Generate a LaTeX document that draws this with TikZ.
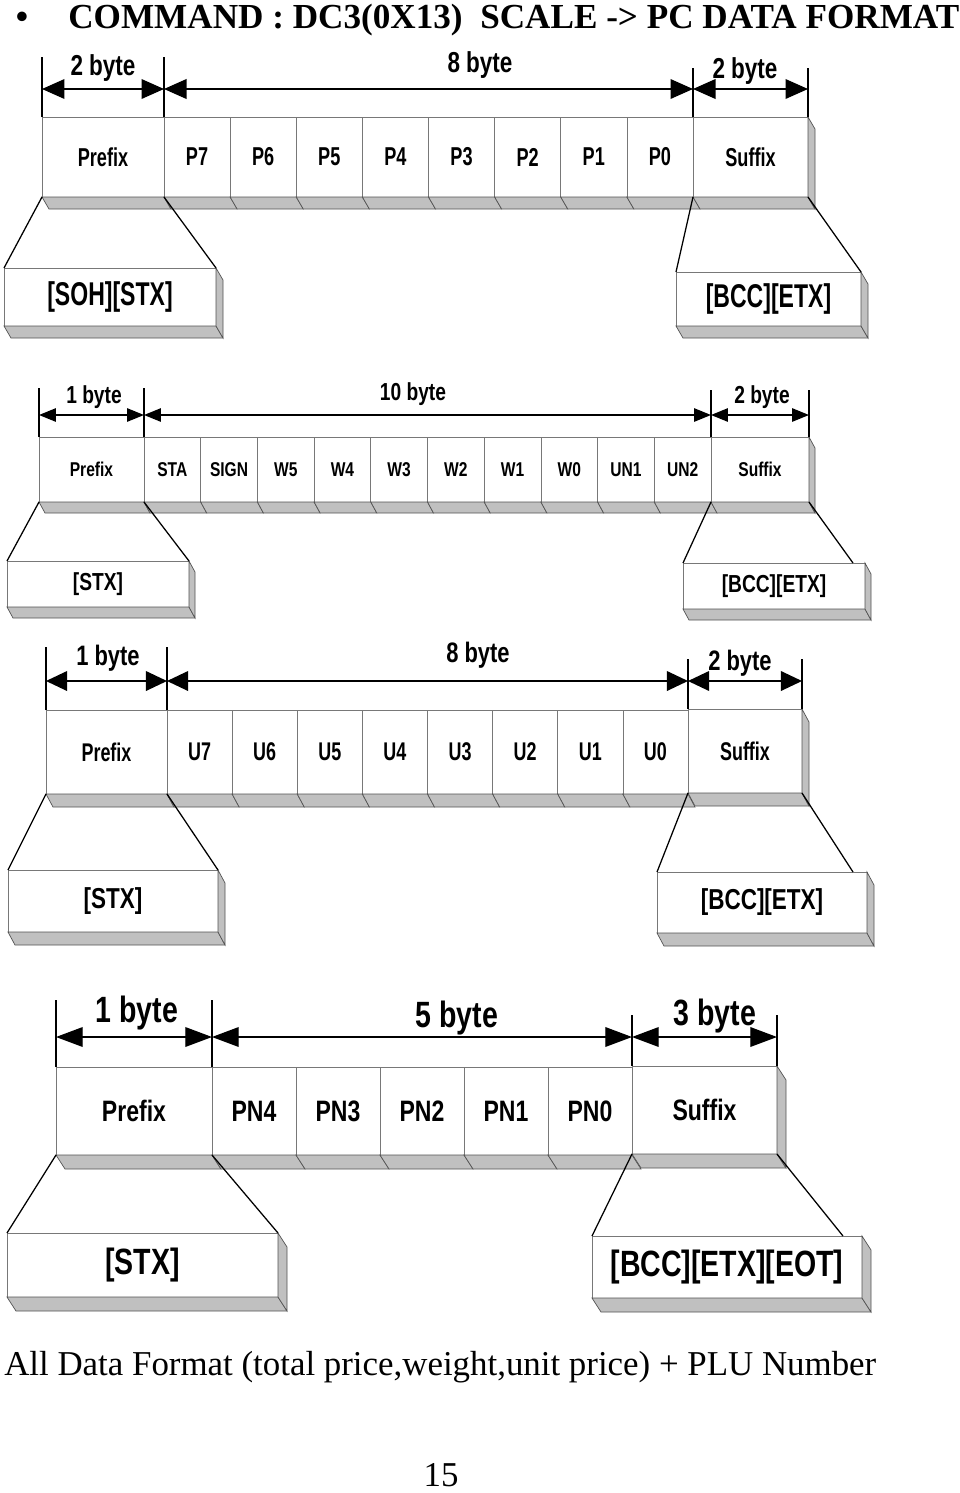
\documentclass[tikz,border=0pt]{standalone}
\usepackage{fontspec}
\setmainfont{Liberation Serif}
\newfontfamily\narrowsf[FakeStretch=0.78]{Liberation Sans}
\newfontfamily\tightsf[FakeStretch=0.70]{Liberation Sans}
\usetikzlibrary{arrows.meta,calc}
\definecolor{shadegray}{RGB}{192,192,192}
\definecolor{edgegray}{RGB}{120,120,120}

\begin{document}
\begin{tikzpicture}[x=0.025cm, y=-0.025cm,
    cell/.style={draw=edgegray, line width=0.5pt, fill=white, inner sep=0pt, outer sep=0pt, font=\narrowsf\bfseries\fontsize{#1}{#1}\selectfont},
    tcell/.style={cell, font=\tightsf\bfseries\fontsize{#1}{#1}\selectfont},
    box/.style={draw=edgegray, line width=0.6pt, fill=white, inner sep=0pt, outer sep=0pt, font=\narrowsf\bfseries\fontsize{#1}{#1}\selectfont},
    tbox/.style={box, font=\tightsf\bfseries\fontsize{#1}{#1}\selectfont},
    lbl/.style={anchor=base, inner sep=0pt, font=\narrowsf\bfseries\fontsize{#1}{#1}\selectfont},
    tick/.style={line width=0.8pt},
    dim/.style 2 args={line width=1pt, {Triangle[length=#1,width=#2]}-{Triangle[length=#1,width=#2]}},
    funnel/.style={line width=0.9pt},
    shade/.style={draw=edgegray!70!black, line width=0.5pt, fill=shadegray}
  ]
  \useasboundingbox (0,0) rectangle (960,1493);

  % heading
  \node[anchor=base, font=\bfseries\fontsize{25}{28}\selectfont] (bul) at (22,28) {\textbullet};
  \node[anchor=base west, inner sep=0pt, font=\bfseries\fontsize{25}{28}\selectfont] (title) at (68,28) {COMMAND : DC3(0X13)\ \ SCALE -> PC DATA FORMAT};

  % ---- total price
  \node[tcell=18.4, minimum width=122*0.025cm, minimum height=80*0.025cm] (preA) at (103,157) {Prefix};
  \foreach \t [count=\i] in {P7,P6,P5,P4,P3,P2,P1,P0}
    \node[tcell=18.4, minimum width=66.125*0.025cm, minimum height=80*0.025cm] (pA\i) at ({164+66.125*(\i-0.5)},157) {\t};
  \node[tcell=18.4, minimum width=115*0.025cm, minimum height=80*0.025cm] (sufA) at (750.5,157) {Suffix};
  \node[tbox=23.4, minimum width=212*0.025cm, minimum height=58*0.025cm] (sohA) at (110,297) {[SOH][STX]};
  \node[tbox=23.4, minimum width=185*0.025cm, minimum height=54*0.025cm] (bccA) at (768.5,299) {[BCC][ETX]};
  \foreach \c in {preA,pA1,pA2,pA3,pA4,pA5,pA6,pA7,pA8,sufA,sohA,bccA}
    \draw[shade] (\c.south west) -- (\c.south east) -- ++(7,12) -- ([shift={(7,12)}]\c.south west) -- cycle;
  \foreach \c in {sufA,sohA,bccA}
    \draw[shade] (\c.north east) -- ++(7,12) -- ([shift={(7,12)}]\c.south east) -- (\c.south east) -- cycle;
  \draw[tick] (preA.north west) -- ++(0,-60);
  \draw[tick] (preA.north east) -- ++(0,-60);
  \draw[tick] (sufA.north west) -- ++(0,-49);
  \draw[tick] (sufA.north east) -- ++(0,-49);
  \coordinate (dA0) at ($(preA.north west)+(0,-28)$);
  \coordinate (dA1) at ($(preA.north east)+(0,-28)$);
  \coordinate (dA2) at ($(sufA.north west)+(0,-28)$);
  \coordinate (dA3) at ($(sufA.north east)+(0,-28)$);
  \draw[dim={16pt}{14pt}] (dA0) -- (dA1);
  \draw[dim={16pt}{14pt}] (dA1) -- (dA2);
  \draw[dim={16pt}{14pt}] (dA2) -- (dA3);
  \node[lbl=20.5] (bA1) at (103,75) {2 byte};
  \node[lbl=20.5] (bA2) at (480,72) {8 byte};
  \node[lbl=20.5] (bA3) at (745,78) {2 byte};
  \draw[funnel] (preA.south west) -- (sohA.north west);
  \draw[funnel] (preA.south east) -- (sohA.north east);
  \draw[funnel] (sufA.south west) -- (bccA.north west);
  \draw[funnel] (sufA.south east) -- (bccA.north east);

  % ---- weight
  \node[cell=14.2, minimum width=105*0.025cm, minimum height=65*0.025cm] (preB) at (91.5,469.5) {Prefix};
  \foreach \t [count=\i] in {STA,SIGN,W5,W4,W3,W2,W1,W0,UN1,UN2}
    \node[cell=14.2, minimum width=56.7*0.025cm, minimum height=65*0.025cm] (wB\i) at ({144+56.7*(\i-0.5)},469.5) {\t};
  \node[cell=14.2, minimum width=98*0.025cm, minimum height=65*0.025cm] (sufB) at (760,469.5) {Suffix};
  \node[box=17.5, minimum width=182*0.025cm, minimum height=46*0.025cm] (stxB) at (98,584) {[STX]};
  \node[box=17.5, minimum width=182*0.025cm, minimum height=46*0.025cm] (bccB) at (774,586) {[BCC][ETX]};
  \foreach \c in {preB,wB1,wB2,wB3,wB4,wB5,wB6,wB7,wB8,wB9,wB10,sufB,stxB,bccB}
    \draw[shade] (\c.south west) -- (\c.south east) -- ++(6,11) -- ([shift={(6,11)}]\c.south west) -- cycle;
  \foreach \c in {sufB,stxB,bccB}
    \draw[shade] (\c.north east) -- ++(6,11) -- ([shift={(6,11)}]\c.south east) -- (\c.south east) -- cycle;
  \draw[tick] (preB.north west) -- ++(0,-49);
  \draw[tick] (preB.north east) -- ++(0,-49);
  \draw[tick] (sufB.north west) -- ++(0,-47);
  \draw[tick] (sufB.north east) -- ++(0,-47);
  \coordinate (dB0) at ($(preB.north west)+(0,-22)$);
  \coordinate (dB1) at ($(preB.north east)+(0,-22)$);
  \coordinate (dB2) at ($(sufB.north west)+(0,-22)$);
  \coordinate (dB3) at ($(sufB.north east)+(0,-22)$);
  \draw[dim={12pt}{9.5pt}] (dB0) -- (dB1);
  \draw[dim={12pt}{9.5pt}] (dB1) -- (dB2);
  \draw[dim={12pt}{9.5pt}] (dB2) -- (dB3);
  \node[lbl=17.5] (bB1) at (94,403) {1 byte};
  \node[lbl=17.5] (bB2) at (413,400) {10 byte};
  \node[lbl=17.5] (bB3) at (762,403) {2 byte};
  \draw[funnel] (preB.south west) -- (stxB.north west);
  \draw[funnel] (preB.south east) -- (stxB.north east);
  \draw[funnel] (sufB.south west) -- (bccB.north west);
  \draw[funnel] (sufB.south east) -- ([xshift=-0.3cm]bccB.north east);

  % ---- unit price
  \node[tcell=18.2, minimum width=121*0.025cm, minimum height=84*0.025cm] (preC) at (106.5,752) {Prefix};
  \foreach \t [count=\i] in {U7,U6,U5,U4,U3,U2,U1,U0}
    \node[tcell=18.2, minimum width=65.125*0.025cm, minimum height=84*0.025cm] (uC\i) at ({167+65.125*(\i-0.5)},752) {\t};
  \node[tcell=18.2, minimum width=114*0.025cm, minimum height=84*0.025cm] (sufC) at (745,751) {Suffix};
  \node[box=20.5, minimum width=210*0.025cm, minimum height=62*0.025cm] (stxC) at (113,901) {[STX]};
  \node[box=20.5, minimum width=210*0.025cm, minimum height=61*0.025cm] (bccC) at (762,902.5) {[BCC][ETX]};
  \foreach \c in {preC,uC1,uC2,uC3,uC4,uC5,uC6,uC7,uC8,sufC,stxC,bccC}
    \draw[shade] (\c.south west) -- (\c.south east) -- ++(7,13) -- ([shift={(7,13)}]\c.south west) -- cycle;
  \foreach \c in {sufC,stxC,bccC}
    \draw[shade] (\c.north east) -- ++(7,13) -- ([shift={(7,13)}]\c.south east) -- (\c.south east) -- cycle;
  \draw[tick] (preC.north west) -- ++(0,-63);
  \draw[tick] (preC.north east) -- ++(0,-63);
  \draw[tick] (sufC.north west) -- ++(0,-50);
  \draw[tick] (sufC.north east) -- ++(0,-50);
  \coordinate (dC0) at ($(preC.north west)+(0,-29)$);
  \coordinate (dC1) at ($(preC.north east)+(0,-29)$);
  \coordinate (dC2) at ($(sufC.north west)+(0,-28)$);
  \coordinate (dC3) at ($(sufC.north east)+(0,-28)$);
  \draw[dim={15pt}{14pt}] (dC0) -- (dC1);
  \draw[dim={15pt}{14pt}] (dC1) -- (dC2);
  \draw[dim={15pt}{14pt}] (dC2) -- (dC3);
  \node[lbl=20] (bC1) at (108,665) {1 byte};
  \node[lbl=20] (bC2) at (478,662) {8 byte};
  \node[lbl=20] (bC3) at (740,670) {2 byte};
  \draw[funnel] (preC.south west) -- (stxC.north west);
  \draw[funnel] (preC.south east) -- (stxC.north east);
  \draw[funnel] (sufC.south west) -- (bccC.north west);
  \draw[funnel] (sufC.south east) -- ([xshift=-0.35cm]bccC.north east);

  % ---- PLU number
  \node[cell=21, minimum width=156*0.025cm, minimum height=88*0.025cm] (preD) at (134,1111) {Prefix};
  \foreach \t [count=\i] in {PN4,PN3,PN2,PN1,PN0}
    \node[cell=21, minimum width=84*0.025cm, minimum height=88*0.025cm] (nD\i) at ({212+84*(\i-0.5)},1111) {\t};
  \node[cell=21, minimum width=145*0.025cm, minimum height=88*0.025cm] (sufD) at (704.5,1110) {Suffix};
  \node[box=26, minimum width=271*0.025cm, minimum height=64*0.025cm] (stxD) at (142.5,1265) {[STX]};
  \node[box=26, minimum width=270*0.025cm, minimum height=62*0.025cm] (eotD) at (727,1267) {[BCC][ETX][EOT]};
  \foreach \c in {preD,nD1,nD2,nD3,nD4,nD5,sufD,stxD,eotD}
    \draw[shade] (\c.south west) -- (\c.south east) -- ++(9,14) -- ([shift={(9,14)}]\c.south west) -- cycle;
  \foreach \c in {sufD,stxD,eotD}
    \draw[shade] (\c.north east) -- ++(9,14) -- ([shift={(9,14)}]\c.south east) -- (\c.south east) -- cycle;
  \draw[tick] (preD.north west) -- ++(0,-67);
  \draw[tick] (preD.north east) -- ++(0,-67);
  \draw[tick] (sufD.north west) -- ++(0,-51);
  \draw[tick] (sufD.north east) -- ++(0,-51);
  \coordinate (dD0) at ($(preD.north west)+(0,-30)$);
  \coordinate (dD1) at ($(preD.north east)+(0,-30)$);
  \coordinate (dD2) at ($(sufD.north west)+(0,-29)$);
  \coordinate (dD3) at ($(sufD.north east)+(0,-29)$);
  \draw[dim={19pt}{14pt}] (dD0) -- (dD1);
  \draw[dim={19pt}{14pt}] (dD1) -- (dD2);
  \draw[dim={19pt}{14pt}] (dD2) -- (dD3);
  \node[lbl=26] (bD1) at (137,1022) {1 byte};
  \node[lbl=26] (bD2) at (457,1027) {5 byte};
  \node[lbl=26] (bD3) at (715,1025) {3 byte};
  \draw[funnel] (preD.south west) -- (stxD.north west);
  \draw[funnel] (preD.south east) -- (stxD.north east);
  \draw[funnel] (sufD.south west) -- (eotD.north west);
  \draw[funnel] (sufD.south east) -- ([xshift=-0.475cm]eotD.north east);

  % footer
  \node[anchor=base west, inner sep=0pt, font=\fontsize{24.8}{28}\selectfont] (note) at (4,1375) {All Data Format (total price,weight,unit price) + PLU Number};
  \node[anchor=base, inner sep=0pt, font=\fontsize{24.8}{28}\selectfont] (page) at (441,1486) {15};
\end{tikzpicture}
\end{document}
